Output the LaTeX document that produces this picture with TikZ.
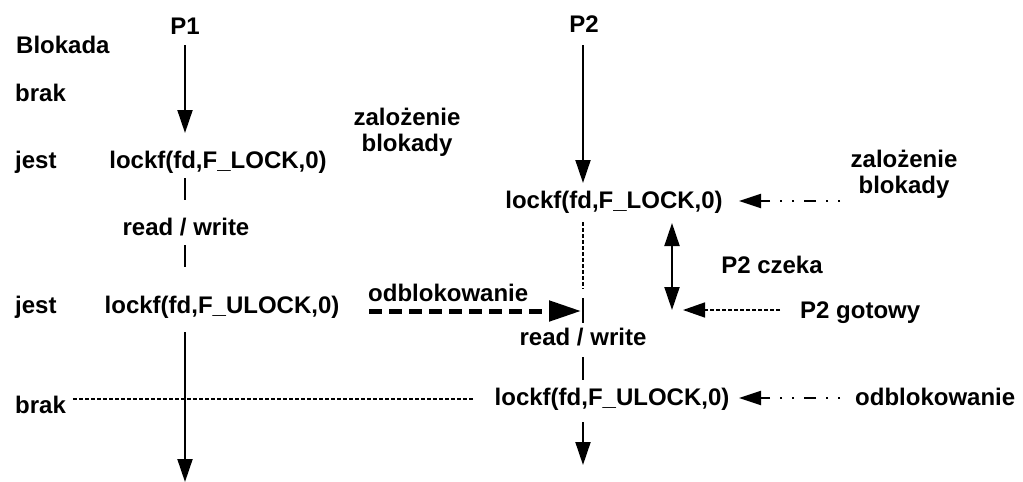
\documentclass[tikz,border=0pt]{standalone}
\usepackage{fontspec}
\setmainfont{Liberation Sans}
\usetikzlibrary{arrows.meta}
\begin{document}
\begin{tikzpicture}[x=1pt,y=-1pt,
  lbl/.style={font=\fontsize{24}{26}\selectfont\bfseries, inner sep=0pt, anchor=base, align=center},
  lblw/.style={lbl, anchor=base west},
  tip/.style={-{Triangle[length=23pt,width=15pt]}},
  flow/.style={line width=2pt},
  flowarrow/.style={flow, tip},
  thindash/.style={line width=1.2pt, dash pattern=on 4pt off 2pt},
  dashdotarrow/.style={line width=2pt, dash pattern=on 2pt off 10pt on 2pt off 10pt on 12pt off 10pt, -{Triangle[length=22pt,width=14pt]}},
  thickdash/.style={line width=5pt, dash pattern=on 13pt off 7pt, -{Triangle[length=32pt,width=20pt]}}
]
\useasboundingbox (0,0) rectangle (1023,482);

% left column labels
\node[lblw] (blokada) at (16,53) {Blokada};
\node[lblw] (brak1) at (15,101) {brak};
\node[lblw] (jest1) at (15,168) {jest};
\node[lblw] (jest2) at (15,313) {jest};
\node[lblw] (brak2) at (15,413) {brak};

% P1
\node[lbl] (p1) at (185,34) {P1};
\node[lbl] (lock1) at (218,168) {lockf(fd,F\_LOCK,0)};
\node[lbl] (zal1) at (407,151) {zalożenie\\blokady};
\node[lbl] (rw1) at (186,235) {read / write};
\node[lbl] (ulock1) at (222,313) {lockf(fd,F\_ULOCK,0)};
\node[lblw] (odb1) at (368,301) {odblokowanie};

% P2
\node[lbl] (p2) at (584,32) {P2};
\node[lbl] (lock2) at (614,208) {lockf(fd,F\_LOCK,0)};
\node[lbl] (zal2) at (904,193) {zalożenie\\blokady};
\node[lbl] (czeka) at (772,273) {P2 czeka};
\node[lblw] (gotowy) at (800,318) {P2 gotowy};
\node[lbl] (rw2) at (583,345) {read / write};
\node[lbl] (ulock2) at (612,405) {lockf(fd,F\_ULOCK,0)};
\node[lblw] (odb2) at (855,405) {odblokowanie};

% coordinates
\coordinate (a1s) at (185,45);   \coordinate (a1e) at (185,133);
\coordinate (s1s) at (185,178);  \coordinate (s1e) at (185,200);
\coordinate (s2s) at (185,245);  \coordinate (s2e) at (185,267);
\coordinate (a2s) at (185,332);  \coordinate (a2e) at (185,482);
\coordinate (b1s) at (583,45);   \coordinate (b1e) at (583,183);
\coordinate (d1s) at (583,222);  \coordinate (d1e) at (583,289);
\coordinate (t1s) at (583,298);  \coordinate (t1e) at (583,323);
\coordinate (s3s) at (583,357);  \coordinate (s3e) at (583,380);
\coordinate (b2s) at (583,422);  \coordinate (b2e) at (583,465);
\coordinate (w1) at (672,223);   \coordinate (w2) at (672,310);
\coordinate (odbS) at (369,311); \coordinate (odbE) at (581,311);
\coordinate (gS) at (780,310);   \coordinate (gE) at (683,310);
\coordinate (zS) at (840,201);   \coordinate (zE) at (739,201);
\coordinate (oS) at (840,398);   \coordinate (oE) at (739,398);
\coordinate (hS) at (73,399);    \coordinate (hE) at (473,399);

% P1 line
\draw[flowarrow] (a1s) -- (a1e);
\draw[flow] (s1s) -- (s1e);
\draw[flow] (s2s) -- (s2e);
\draw[flowarrow] (a2s) -- (a2e);

% P2 line
\draw[flowarrow] (b1s) -- (b1e);
\draw[thindash] (d1s) -- (d1e);
\draw[line width=1.2pt] (t1s) -- (t1e);
\draw[flow] (s3s) -- (s3e);
\draw[flowarrow] (b2s) -- (b2e);

% waiting
\draw[flow, {Triangle[length=23pt,width=15pt]}-{Triangle[length=23pt,width=15pt]}] (w1) -- (w2);
\draw[line width=1.5pt, dash pattern=on 4pt off 2pt, -{Triangle[length=22pt,width=15pt]}] (gS) -- (gE);

% unlock signal
\draw[thickdash] (odbS) -- (odbE);

% annotations
\draw[dashdotarrow] (zS) -- (zE);
\draw[dashdotarrow] (oS) -- (oE);

% brak line
\draw[thindash] (hS) -- (hE);
\end{tikzpicture}
\end{document}
